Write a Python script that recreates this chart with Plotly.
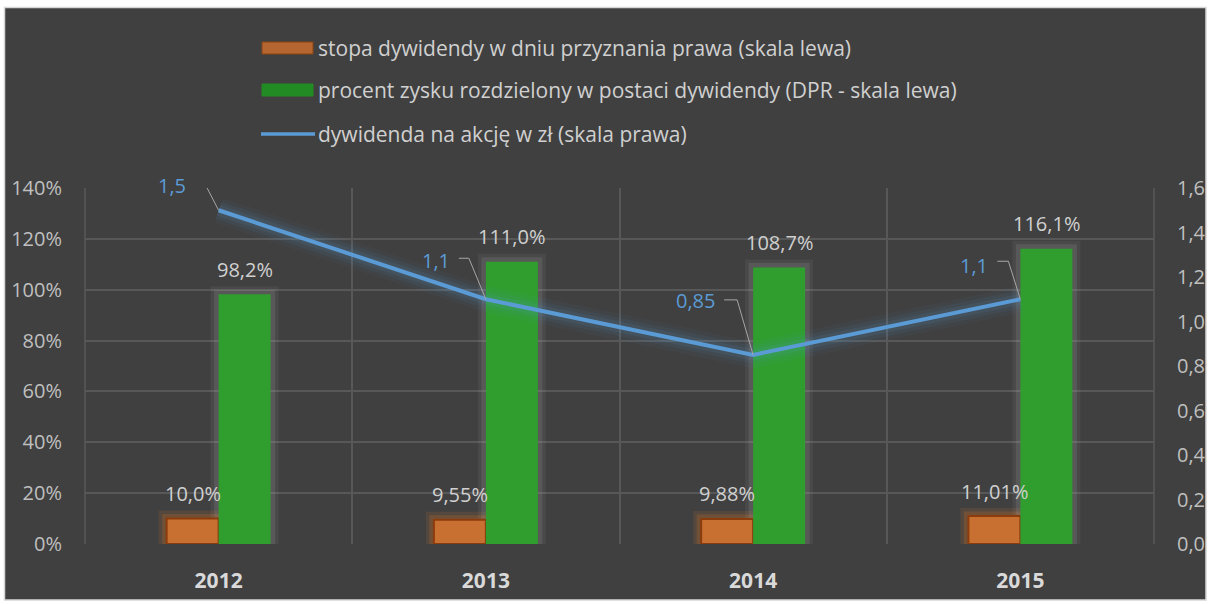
import plotly.graph_objects as go

# ---------------- data ----------------
years = ["2012", "2013", "2014", "2015"]
dividend_yield = [0.100, 0.0955, 0.0988, 0.1101]
payout_ratio = [0.982, 1.110, 1.087, 1.161]
dividend_per_share = [1.5, 1.1, 0.85, 1.1]

yield_labels = ["10,0%", "9,55%", "9,88%", "11,01%"]
payout_labels = ["98,2%", "111,0%", "108,7%", "116,1%"]
dps_labels = ["1,5", "1,1", "0,85", "1,1"]

series_names = [
    "stopa dywidendy w dniu przyznania prawa (skala lewa)",
    "procent zysku rozdzielony w postaci dywidendy (DPR - skala lewa)",
    "dywidenda na akcję w zł (skala prawa)",
]
left_ticks = [0, 0.2, 0.4, 0.6, 0.8, 1.0, 1.2, 1.4]
right_ticks = [0, 0.2, 0.4, 0.6, 0.8, 1.0, 1.2, 1.4, 1.6]

# ---------------- style ----------------
W, H = 1211, 604
PL, PR, PT, PB = 85, 1154, 188, 544          # plot box in page pixels
ML, MR, MT, MB = PL, W - PR, PT, H - PB
PW, PH = PR - PL, PB - PT
BG = "#404040"
ORANGE, ORANGE_EDGE = "#c86f32", "#8a3c0c"
GREEN = "#2f9e2f"
BLUE = "#5b9bd5"
TICK_COL = "#bfbfbf"
LABEL_COL = "#d0d0d0"
GRID = "#585858"
FONT = "Open Sans"
BAR_W = 52 / (PW / 4)          # bar width in category units (52 px)

def px_x(p):
    return (p - PL) / PW

def px_y(p):
    return (PB - p) / PH

# label offsets for line labels (pixels): text centre, leader elbow start/end
dps_text_off = [(-47, 25), (-50, 39), (-58, 54), (-46, 34)]
dps_leader = [((-26, 27), (-14, 27)), ((-27, 41), (-17, 41)),
              ((-29, 55), (-16, 55)), ((-23, 38), (-12, 38))]

fig = go.Figure()

# soft halos under the bars (drawn as thick translucent outlines)
for lw, a in [(16, 0.06), (9, 0.10)]:
    fig.add_trace(go.Bar(
        x=years, y=dividend_yield, yaxis="y", offset=-BAR_W, width=BAR_W,
        marker=dict(color="rgba(0,0,0,0)", line=dict(color=f"rgba(230,120,40,{a*2})", width=lw)),
        hoverinfo="skip", showlegend=False,
    ))
    fig.add_trace(go.Bar(
        x=years, y=payout_ratio, yaxis="y", offset=0, width=BAR_W,
        marker=dict(color="rgba(0,0,0,0)", line=dict(color=f"rgba(200,200,200,{a*1.2})", width=lw)),
        hoverinfo="skip", showlegend=False,
    ))

fig.add_trace(go.Bar(
    x=years, y=dividend_yield, name=series_names[0], yaxis="y",
    offset=-BAR_W, width=BAR_W,
    marker=dict(color=ORANGE, line=dict(color=ORANGE_EDGE, width=2)),
    showlegend=False,
))
fig.add_trace(go.Bar(
    x=years, y=payout_ratio, name=series_names[1], yaxis="y",
    offset=0, width=BAR_W,
    marker=dict(color=GREEN, line=dict(width=0)),
    showlegend=False,
))
# soft glow under the line
for w, a in [(26, 0.05), (18, 0.07), (11, 0.10)]:
    fig.add_trace(go.Scatter(
        x=years, y=dividend_per_share, yaxis="y2", mode="lines",
        line=dict(color=f"rgba(91,155,213,{a})", width=w),
        hoverinfo="skip", showlegend=False,
    ))
fig.add_trace(go.Scatter(
    x=years, y=dividend_per_share, yaxis="y2", mode="lines",
    line=dict(color=BLUE, width=4), name=series_names[2], showlegend=False,
))

annotations = []
shapes = []

# background panel with light border
shapes.append(dict(
    type="rect", xref="paper", yref="paper", layer="below",
    x0=px_x(4.5), x1=px_x(1206), y0=px_y(600), y1=px_y(7.5),
    fillcolor=BG, line=dict(color="#d6d6d6", width=1.5),
))
# left / right edges of the grid box
for xe in (0, 1):
    shapes.append(dict(type="line", xref="paper", yref="paper", layer="below",
                       x0=xe, x1=xe, y0=0, y1=1,
                       line=dict(color=GRID, width=1.5)))

# bar value labels and line labels
for i in range(len(years)):
    annotations.append(dict(
        x=i, y=dividend_yield[i], xref="x", yref="y", text=yield_labels[i],
        showarrow=False, xshift=-26, yshift=25, yanchor="middle",
        font=dict(family=FONT, size=20, color=LABEL_COL),
    ))
    annotations.append(dict(
        x=i, y=payout_ratio[i], xref="x", yref="y", text=payout_labels[i],
        showarrow=False, xshift=26, yshift=25, yanchor="middle",
        font=dict(family=FONT, size=20, color=LABEL_COL),
    ))
    dx, dy = dps_text_off[i]
    annotations.append(dict(
        x=i, y=dividend_per_share[i], xref="x", yref="y2", text=dps_labels[i],
        showarrow=False, xshift=dx, yshift=dy, xanchor="center", yanchor="middle",
        font=dict(family=FONT, size=20, color=BLUE),
    ))
    (ax0, ay0), (ax1, ay1) = dps_leader[i]
    shapes.append(dict(
        type="path", xref="x", yref="y2", xsizemode="pixel", ysizemode="pixel",
        xanchor=i, yanchor=dividend_per_share[i],
        path=f"M{ax0},{ay0} L{ax1},{ay1} L0,0",
        line=dict(color="#a6a6a6", width=1),
    ))

# legend (drawn manually to get the wide swatches)
leg_rows = [48, 90, 134]
shapes.append(dict(type="rect", xref="paper", yref="paper",
                   x0=px_x(262), x1=px_x(313), y0=px_y(54), y1=px_y(42),
                   fillcolor="#b5652f", line=dict(color="#8b4513", width=1)))
shapes.append(dict(type="rect", xref="paper", yref="paper",
                   x0=px_x(262), x1=px_x(313), y0=px_y(96), y1=px_y(84),
                   fillcolor="#238b23", line=dict(color="#228b22", width=1)))
shapes.append(dict(type="line", xref="paper", yref="paper",
                   x0=px_x(261), x1=px_x(315), y0=px_y(134), y1=px_y(134),
                   line=dict(color=BLUE, width=3.5)))
for name, row in zip(series_names, leg_rows):
    annotations.append(dict(
        x=px_x(316), y=px_y(row), xref="paper", yref="paper", text=name,
        showarrow=False, xanchor="left", yanchor="middle",
        font=dict(family=FONT, size=21, color=LABEL_COL),
    ))

fig.update_layout(
    width=W, height=H,
    margin=dict(l=ML, r=MR, t=MT, b=MB, pad=0, autoexpand=False),
    paper_bgcolor="white", plot_bgcolor="rgba(0,0,0,0)",
    barmode="overlay",
    separators=", ",
    showlegend=False,
    font=dict(family=FONT, color=TICK_COL),
    xaxis=dict(
        type="category", range=[-0.5, 3.5], tickson="boundaries",
        showgrid=True, gridcolor=GRID, gridwidth=1.5, ticks="",
        showline=False, zeroline=False, ticklabelstandoff=22, automargin=False,
        tickfont=dict(family=FONT, size=21, color="#d9d9d9", weight="bold"),
    ),
    yaxis=dict(
        range=[0, 1.4], tickvals=left_ticks, tickformat=".0%",
        showgrid=True, gridcolor=GRID, gridwidth=1.5, zeroline=False,
        ticks="", ticklabelstandoff=22, automargin=False,
        tickfont=dict(family=FONT, size=20, color=TICK_COL),
    ),
    yaxis2=dict(
        range=[0, 1.6], tickvals=right_ticks, tickformat=".1f",
        overlaying="y", side="right", showgrid=False, zeroline=False,
        ticks="", ticklabelstandoff=22, automargin=False,
        tickfont=dict(family=FONT, size=20, color=TICK_COL),
    ),
    shapes=shapes, annotations=annotations,
)

fig.write_html(
    "out.html",
    config={"displayModeBar": False},
    post_script=(
        "document.documentElement.style.overflow='hidden';"
        "document.body.style.margin='0';"
        "document.body.style.overflow='hidden';"
    ),
)
